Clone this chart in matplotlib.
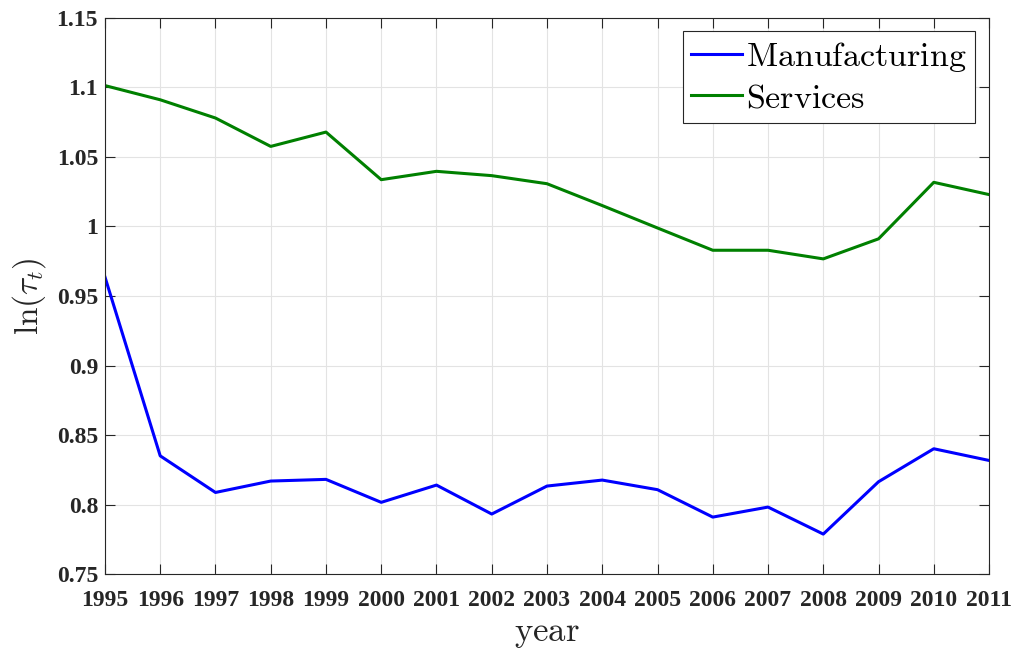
import numpy as np
import matplotlib
matplotlib.use("Agg")
import matplotlib.pyplot as plt

plt.rcParams['mathtext.fontset'] = 'cm'

# values
years = np.arange(1995, 2012)
manufacturing = [0.9636, 0.8351, 0.8088, 0.8170, 0.8182, 0.8017, 0.8141, 0.7933,
                 0.8134, 0.8177, 0.8108, 0.7911, 0.7983, 0.7789, 0.8165, 0.8402, 0.8318]
services = [1.1011, 1.0909, 1.0778, 1.0574, 1.0677, 1.0335, 1.0395, 1.0364,
            1.0306, 1.0149, 0.9988, 0.9828, 0.9828, 0.9766, 0.9910, 1.0316, 1.0228]
yticks = [0.75, 0.8, 0.85, 0.9, 0.95, 1, 1.05, 1.1, 1.15]
ytick_labels = ['0.75', '0.8', '0.85', '0.9', '0.95', '1', '1.05', '1.1', '1.15']

fig = plt.figure(figsize=(10.17, 6.51), dpi=100)
ax = fig.add_axes([0.1032, 0.1178, 0.8693, 0.8553])

ax.plot(years, manufacturing, color=(0, 0, 1), lw=2.2, label=r'$\mathrm{Manufacturing}$')
ax.plot(years, services, color=(0, 0.5, 0), lw=2.2, label=r'$\mathrm{Services}$')

ax.set_xlim(1995, 2011)
ax.set_ylim(0.75, 1.15)
ax.set_xticks(years)
ax.set_xticklabels([str(y) for y in years])
ax.set_yticks(yticks)
ax.set_yticklabels(ytick_labels)

ax.grid(True, color='#e3e3e3', lw=0.8)
ax.set_axisbelow(True)
for s in ax.spines.values():
    s.set_color('#262626')
    s.set_linewidth(0.8)
ax.tick_params(direction='in', length=7, width=0.8, color='#262626',
               top=True, right=True)
ax.tick_params(axis='y', pad=5)
ax.tick_params(axis='x', pad=11)
for lab in ax.get_xticklabels() + ax.get_yticklabels():
    lab.set_family('Liberation Serif')
    lab.set_fontweight('bold')
    lab.set_fontsize(17)
    lab.set_color('#262626')

ax.set_xlabel(r'$\mathrm{year}$', fontsize=25, labelpad=4, color='#262626')
ax.set_ylabel(r'$\ln(\tau_t)$', fontsize=24, labelpad=6, color='#262626')

leg = ax.legend(loc='upper right', fontsize=24.5, fancybox=False, framealpha=1,
                edgecolor='#262626', borderpad=0.25, handlelength=1.5,
                handletextpad=0.12, labelspacing=0.22, borderaxespad=0.4)
leg.get_frame().set_linewidth(0.8)

fig.savefig('out.png', dpi=100)
